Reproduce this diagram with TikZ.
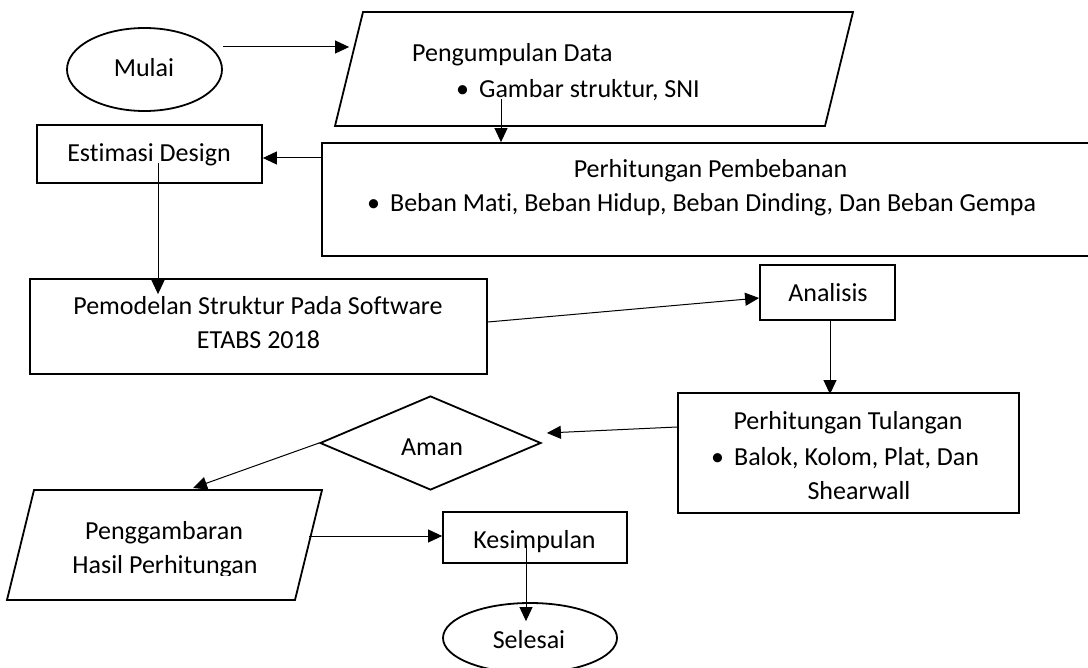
\documentclass[tikz,border=0pt]{standalone}
\usepackage{fontspec}
\setmainfont{Carlito}[Ligatures=CommonOff]
\usetikzlibrary{arrows.meta, shapes.geometric, calc}

\begin{document}
\begin{tikzpicture}[
  x=1pt, y=-1pt,
  font=\fontsize{26}{34}\selectfont,
  shapebox/.style={draw, line width=1.8pt, inner sep=0pt},
  terminal/.style={shapebox, ellipse},
  process/.style={shapebox, rectangle},
  inout/.style={shapebox, rectangle, xslant=0.2456, transform shape},
  decision/.style={shapebox, diamond},
  txt/.style={anchor=base, inner sep=0pt},
  txtleft/.style={anchor=base west, inner sep=0pt},
  flow/.style={
    -{Triangle[length=14pt,width=13pt]},
    line width=1pt
  }
]

\clip (0,0) rectangle (1088,668);
\fill[white] (0,0) rectangle (1088,668);

% shapes
\node[terminal, minimum width=155, minimum height=83] (mulai) at (144.5,69.5) {};
\node[inout, minimum width=490, minimum height=114] (data) at (594,69) {};
\node[process, minimum width=225, minimum height=58] (estimasi) at (149.5,154) {};
\node[process, minimum width=798, minimum height=113] (beban) at (721,199.5) {};
\node[process, minimum width=457, minimum height=95] (pemodelan) at (258.5,326.5) {};
\node[process, minimum width=135, minimum height=55] (analisis) at (827.5,292.5) {};
\node[process, minimum width=341, minimum height=120] (tulangan) at (848.5,453) {};
\node[decision, minimum width=221, minimum height=94] (aman) at (430.5,443) {};
\node[inout, minimum width=288, minimum height=110] (gambar) at (164.5,545) {};
\node[process, minimum width=184, minimum height=51] (kesimpulan) at (535,537.5) {};
\node[terminal, minimum width=174, minimum height=70] (selesai) at (530,638) {};

% texts
\node[txt] (tMulai) at (144,77) {Mulai};
\node[txtleft] (tData) at (412,62) {Pengumpulan Data};
\node[txtleft] (tDataList) at (456,98) {\textbullet\hspace{10pt}Gambar struktur, SNI};
\node[txt] (tEstimasi) at (149,162) {Estimasi Design};
\node[txt] (tBeban) at (710.5,178) {Perhitungan Pembebanan};
\node[txtleft] (tBebanList) at (367,212)
  {\textbullet\hspace{10pt}Beban Mati, Beban Hidup, Beban Dinding, Dan Beban Gempa};
\node[txt] (tModel) at (258,315) {Pemodelan Struktur Pada Software};
\node[txt] (tModelB) at (258.5,349) {ETABS 2018};
\node[txt] (tAnalisis) at (828,302) {Analisis};
\node[txt] (tTulangan) at (848,430) {Perhitungan Tulangan};
\node[txtleft] (tTulanganList) at (711,466) {\textbullet\hspace{10pt}Balok, Kolom, Plat, Dan};
\node[txt] (tTulanganB) at (859,499) {Shearwall};
\node[txt] (tAman) at (432,456) {Aman};
\node[txt] (tGambar) at (164,539) {Penggambaran};
\begin{scope}
  \clip (0,490) rectangle (330,575);
  \node[txt] (tGambarB) at (165,573) {Hasil Perhitungan};
\end{scope}
\node[txt] (tKesimpulan) at (534.5,548) {Kesimpulan};
\node[txt] (tSelesai) at (529,648) {Selesai};

% connectors
\draw[flow] ($(mulai.east)+(0,-22.5)$) -- ($(data.west)+(1,-22)$);
\draw[flow] ($(data.center)+(-93,30)$) -- ($(beban.north)+(-220,0)$);
\draw[flow] ($(beban.west)+(0,-41.5)$) -- ($(estimasi.east)+(0,4)$);
\draw[flow] ($(estimasi.center)+(8.5,9)$) -- ($(pemodelan.north)+(-100.5,16)$);
\draw[flow] ($(pemodelan.east)+(0,-4.5)$) -- ($(analisis.west)+(0,5.5)$);
\draw[flow] ($(analisis.south)+(2.5,0)$) -- ($(tulangan.north)+(-18.5,2)$);
\draw[flow] ($(tulangan.west)+(0,-26)$) -- ($(aman.east)+(5,-10)$);
\draw[flow] (aman.west) -- ($(gambar.center)+(28.5,-57)$);
\draw[flow] ($(gambar.east)+(0,-9)$) -- ($(kesimpulan.west)+(0,-1.5)$);
\draw[flow] ($(kesimpulan.center)+(-9,7.5)$) -- ($(selesai.north)+(-4,19)$);

\end{tikzpicture}
\end{document}
